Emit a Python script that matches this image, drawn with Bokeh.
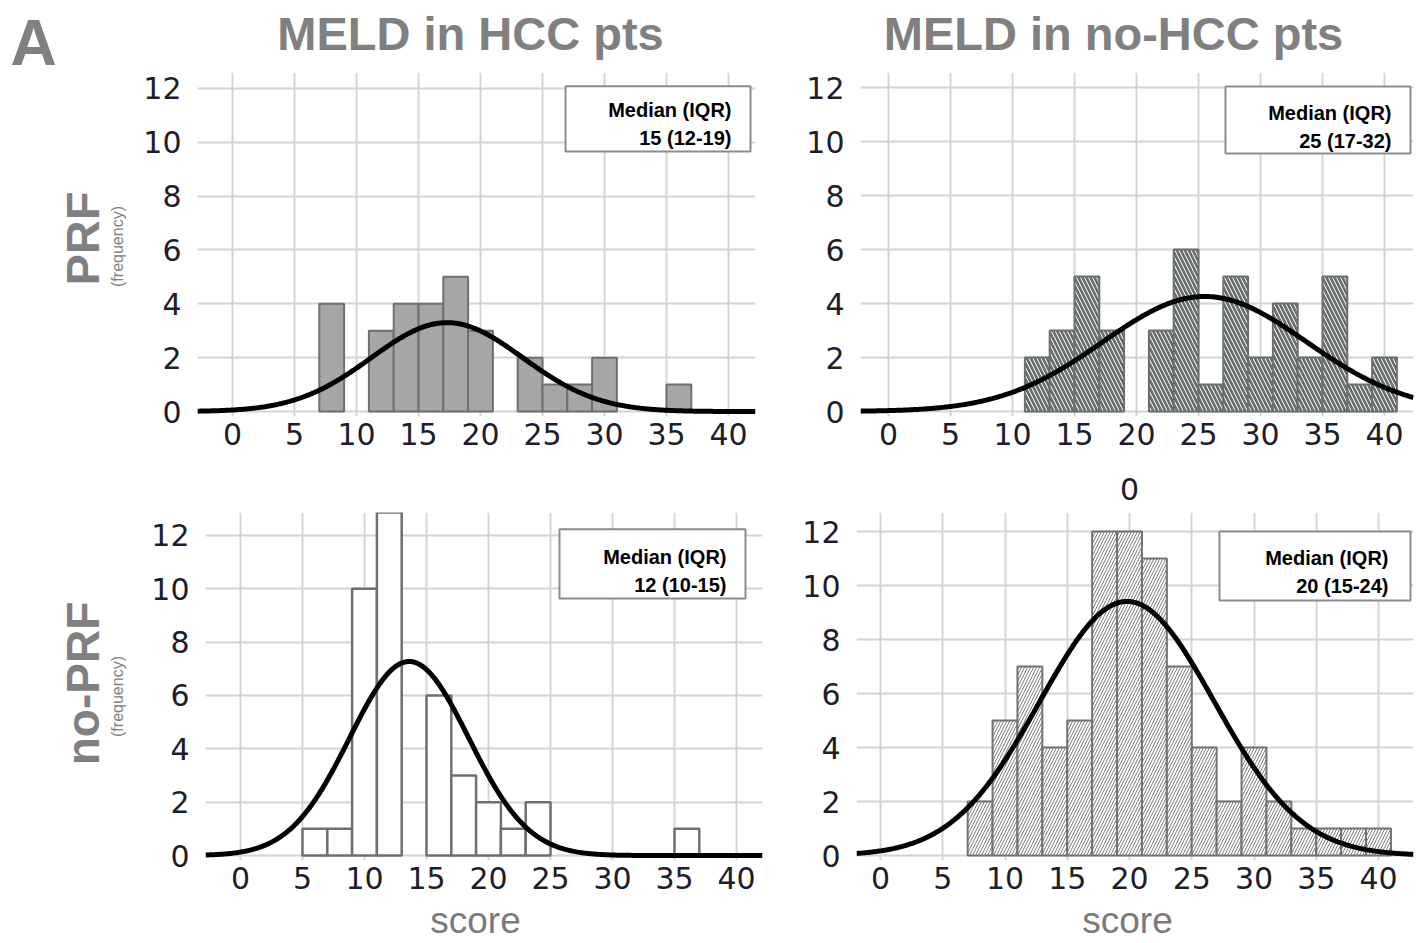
import numpy as np
from bokeh.plotting import figure
from bokeh.layouts import column, row
from bokeh.models import Label, BoxAnnotation, FixedTicker, Range1d, LinearAxis
from bokeh.embed import file_html
from bokeh.resources import INLINE

# ---------------- data ----------------
bin_width = 2
x_ticks = [0, 5, 10, 15, 20, 25, 30, 35, 40]
y_ticks = [0, 2, 4, 6, 8, 10, 12]

hcc_prf_centers = [8, 12, 14, 16, 18, 20, 24, 26, 28, 30, 36]
hcc_prf_counts = [4, 3, 4, 4, 5, 3, 2, 1, 1, 2, 1]
nohcc_prf_centers = [12, 14, 16, 18, 22, 24, 26, 28, 30, 32, 34, 36, 38, 40]
nohcc_prf_counts = [2, 3, 5, 3, 3, 6, 1, 5, 2, 4, 2, 5, 1, 2]
hcc_noprf_centers = [6, 8, 10, 12, 16, 18, 20, 22, 24, 36]
hcc_noprf_counts = [1, 1, 10, 13, 6, 3, 2, 1, 2, 1]
nohcc_noprf_centers = [8, 10, 12, 14, 16, 18, 20, 22, 24, 26, 28, 30, 32, 34, 36, 38, 40]
nohcc_noprf_counts = [2, 5, 7, 4, 5, 12, 12, 11, 7, 4, 2, 4, 2, 1, 1, 1, 1]

# normal-curve overlays: mean, sd, peak height
hcc_prf_fit = (17.3, 6.1, 3.3)
nohcc_prf_fit = (25.5, 8.2, 4.26)
hcc_noprf_fit = (13.6, 4.8, 7.27)
nohcc_noprf_fit = (19.8, 7.0, 9.41)

hcc_prf_median = "15 (12-19)"
nohcc_prf_median = "25 (17-32)"
hcc_noprf_median = "12 (10-15)"
nohcc_noprf_median = "20 (15-24)"

titles = ["MELD in HCC pts", "MELD in no-HCC pts"]
row_labels = ["PRF", "no-PRF"]
x_label = "score"
sub_label = "(frequency)"

# ---------------- styling ----------------
GRAY = "#808080"
TICK = "#1e1e2a"
SANS = "Liberation Sans"
TICKFONT = "DejaVu Sans"
TICKSIZE = "30px"


def style_axis(ax):
    ax.axis_line_color = None
    ax.major_tick_line_color = None
    ax.minor_tick_line_color = None
    ax.major_label_text_font = TICKFONT
    ax.major_label_text_font_size = TICKSIZE
    ax.major_label_text_color = TICK


class Panel:
    def __init__(self, fig_box, frame_box, x0, xs, y0, ys):
        fl, ft, fr, fb = fig_box
        L, T, R, B = frame_box
        self.x0, self.xs, self.y0, self.ys = x0, xs, y0, ys
        self.p = figure(width=fr - fl, height=fb - ft, output_backend="svg",
                        toolbar_location=None, tools="",
                        x_range=Range1d((L - x0) / xs, (R - x0) / xs),
                        y_range=Range1d((y0 - B) / ys, (y0 - T) / ys),
                        min_border_left=L - fl, min_border_right=fr - R,
                        min_border_top=T - ft, min_border_bottom=fb - B)
        p = self.p
        p.outline_line_color = None
        p.background_fill_color = "white"
        p.border_fill_color = "white"
        p.xaxis.ticker = FixedTicker(ticks=x_ticks)
        p.yaxis.ticker = FixedTicker(ticks=y_ticks)
        p.xgrid.ticker = FixedTicker(ticks=x_ticks)
        p.ygrid.ticker = FixedTicker(ticks=y_ticks)
        for g in (p.xgrid, p.ygrid):
            g.grid_line_color = "#d4d4d4"
            g.grid_line_width = 2
        for ax in (p.xaxis, p.yaxis):
            style_axis(ax)
        p.xaxis.major_label_standoff = 0
        p.yaxis.major_label_standoff = 10

    def dx(self, X):
        return (X - self.x0) / self.xs

    def dy(self, Y):
        return (self.y0 - Y) / self.ys

    def curve(self, fit):
        mu, sd, peak = fit
        xs = np.linspace(self.p.x_range.start, self.p.x_range.end, 400)
        ys = peak * np.exp(-((xs - mu) ** 2) / (2 * sd ** 2))
        self.p.line(xs, ys, line_color="black", line_width=5)

    def median_box(self, L, T, R, B, right_text, y1, y2, text):
        self.p.add_layout(BoxAnnotation(left=self.dx(L), right=self.dx(R),
                                        top=self.dy(T), bottom=self.dy(B),
                                        fill_color="white", fill_alpha=1.0,
                                        line_color="#8c8c8c", line_width=2, line_alpha=1.0,
                                        level="annotation"))
        for yy, t in ((y1, "Median (IQR)"), (y2, text)):
            self.p.add_layout(Label(x=self.dx(right_text), y=self.dy(yy), text=t,
                                    text_font=SANS, text_font_size="20px",
                                    text_font_style="bold", text_color="black",
                                    text_align="right", text_baseline="middle"))


class Strip:
    """A text-only figure whose data units are reference pixels."""
    def __init__(self, box):
        l, t, r, b = box
        self.b = b
        self.p = figure(width=r - l, height=b - t, output_backend="svg",
                        toolbar_location=None, tools="",
                        x_range=Range1d(l, r), y_range=Range1d(0, b - t),
                        x_axis_type=None, y_axis_type=None, min_border=0)
        self.p.grid.visible = False
        self.p.outline_line_color = None
        self.p.background_fill_color = "white"
        self.p.border_fill_color = "white"

    def label(self, X, Y, text, size=20, style="normal", color=GRAY,
              align="center", angle=0.0):
        self.p.add_layout(Label(x=X, y=self.b - Y, text=text,
                                text_font=SANS, text_font_size=f"{size}px",
                                text_font_style=style, text_color=color,
                                text_align=align, text_baseline="middle", angle=angle))


# ---------------- text strips ----------------
left = Strip((0, 0, 135, 898))
left.label(10, 42, "A", size=64, style="bold", align="left")
left.label(82, 238, row_labels[0], size=47, style="bold", angle=np.pi / 2)
left.label(117, 246, sub_label, size=16, angle=np.pi / 2)
left.label(82, 683, row_labels[1], size=46, style="bold", angle=np.pi / 2)
left.label(117, 696, sub_label, size=16, angle=np.pi / 2)

top = Strip((135, 0, 1420, 70))
top.label(470, 33, titles[0], size=47, style="bold")
top.label(1113, 33, titles[1], size=47, style="bold")

bottom = Strip((0, 898, 1420, 940))
bottom.label(475, 920, x_label, size=37, color="#7a7a7a")
bottom.label(1127, 920, x_label, size=37, color="#7a7a7a")

# ---------------- panel 1: HCC, PRF ----------------
a = Panel((135, 70, 790, 471), (197, 72, 755, 420), 232, 12.4, 415, 27.25)
a.p.vbar(x=hcc_prf_centers, top=hcc_prf_counts, width=bin_width,
         fill_color="#a6a6a6", line_color="#6b726d", line_width=2)
a.curve(hcc_prf_fit)
a.median_box(565, 86, 750, 152, 731, 110, 138, hcc_prf_median)

# ---------------- panel 2: no-HCC, PRF ----------------
b = Panel((790, 70, 1420, 471), (860, 72, 1413, 416), 888, 12.4, 411, 27.0)
b.p.vbar(x=nohcc_prf_centers, top=nohcc_prf_counts, width=bin_width,
         fill_color="#6a706b", line_color="#6a706b", line_width=2,
         hatch_pattern="\\", hatch_color="white", hatch_scale=8, hatch_weight=1.0)
b.curve(nohcc_prf_fit)
b.median_box(1225, 86, 1410, 153, 1391, 112, 140, nohcc_prf_median)

# ---------------- panel 3: HCC, no-PRF ----------------
c = Panel((135, 471, 790, 898), (205, 510, 762, 862), 240, 12.4, 857, 27.0)
c.p.vbar(x=hcc_noprf_centers, top=hcc_noprf_counts, width=bin_width,
         fill_color="white", line_color="#6b726d", line_width=2.5)
c.curve(hcc_noprf_fit)
c.median_box(559, 527, 745, 597, 726, 555, 583, hcc_noprf_median)

# ---------------- panel 4: no-HCC, no-PRF ----------------
d = Panel((790, 471, 1420, 898), (856, 512, 1413, 860), 880, 12.45, 855, 27.0)
d.p.vbar(x=nohcc_noprf_centers, top=nohcc_noprf_counts, width=bin_width,
         fill_color="white", line_color="#6e746f", line_width=2,
         hatch_pattern="/", hatch_color="#7a7f7b", hatch_scale=6, hatch_weight=1.0)
d.curve(nohcc_noprf_fit)
d.median_box(1219, 531, 1410, 600, 1388, 557, 585, nohcc_noprf_median)
# stray, partly cut tick label visible above this panel in the reference
stray = LinearAxis(ticker=FixedTicker(ticks=[20]), major_label_overrides={20: "0"},
                   major_label_standoff=7)
style_axis(stray)
d.p.add_layout(stray, "above")

grid = column(row(a.p, b.p), row(c.p, d.p))
layout = column(row(left.p, column(top.p, grid)), bottom.p)
open("out.html", "w").write(file_html(layout, INLINE))
